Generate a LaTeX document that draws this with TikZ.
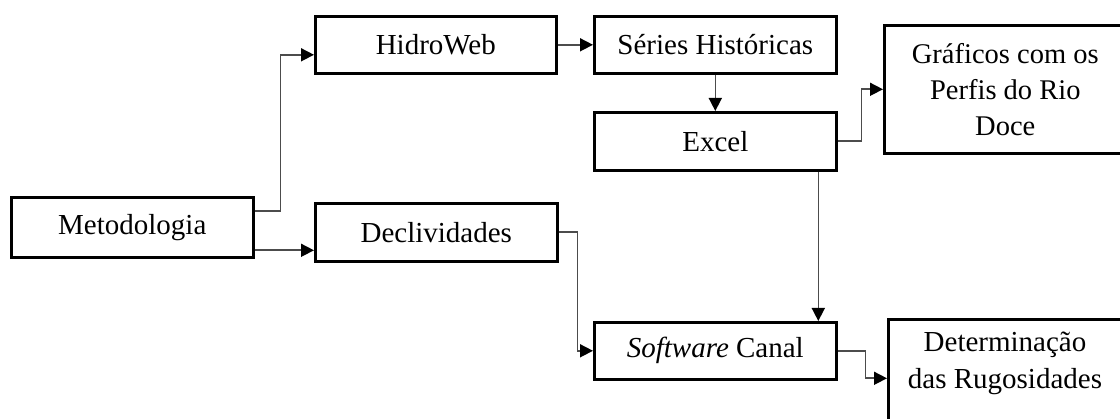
\documentclass[tikz,border=0pt]{standalone}
\usepackage{fontspec}
\setmainfont{Liberation Serif}
\usetikzlibrary{arrows.meta}
\begin{document}
\begin{tikzpicture}[x=1pt,y=-1pt,
  box/.style={draw,line width=2.6pt,inner sep=0pt,anchor=north west,align=center,
    font=\fontsize{29}{36.5}\selectfont},
  lbl/.style={inner sep=0pt,align=center,font=\fontsize{29}{36.5}\selectfont},
  conn/.style={draw=black!70,line width=1.6pt,-{Triangle[length=13pt,width=13pt,fill=black,color=black]}}]
\useasboundingbox (0,0) rectangle (1120,419);
\node[box,minimum width=242pt,minimum height=60pt] (met) at (10,196) {Metodologia};
\node[box,minimum width=241pt,minimum height=57pt] (hid) at (314,15) {HidroWeb};
\node[box,minimum width=242pt,minimum height=57pt] (ser) at (593,15) {Séries Históricas};
\node[box,minimum width=242pt,minimum height=58pt] (exc) at (593,111) {Excel};
\node[box,minimum width=242pt,minimum height=128pt,font=\fontsize{28.5}{36}\selectfont] (gra) at (883,24) {Gráficos com os\\Perfis do Rio\\Doce};
\node[box,minimum width=242pt,minimum height=58pt] (dec) at (314,202) {Declividades};
\node[box,minimum width=242pt,minimum height=57pt] (sof) at (593,321) {\textit{Software} Canal};
\node[box,minimum width=240pt,minimum height=118pt] (det) at (887,318) {};
\node[lbl] (dett) at (1005,363.5) {Determinação\\das Rugosidades};
% connectors
\coordinate (m1) at ([yshift=16pt]met.east);
\coordinate (h1) at ([yshift=-10pt]hid.west);
\draw[conn] (m1) -- ++(26,0) |- (h1);
\coordinate (m2) at ([yshift=-23pt]met.east);
\coordinate (d2) at (m2 -| dec.west);
\draw[conn] (m2) -- (d2);
\draw[conn] (hid.east) -- (ser.west);
\draw[conn] (ser.south) -- (exc.north);
\draw[conn] (exc.east) -- ++(24,0) |- (gra.west);
\coordinate (e1) at ([xshift=103pt]exc.south);
\coordinate (f1) at ([xshift=103pt]sof.north);
\draw[conn] (e1) -- (f1);
\draw[conn] (dec.east) -- ++(19,0) |- (sof.west);
\draw[conn] (sof.east) -- ++(28,0) |- (det.west);
\end{tikzpicture}
\end{document}
